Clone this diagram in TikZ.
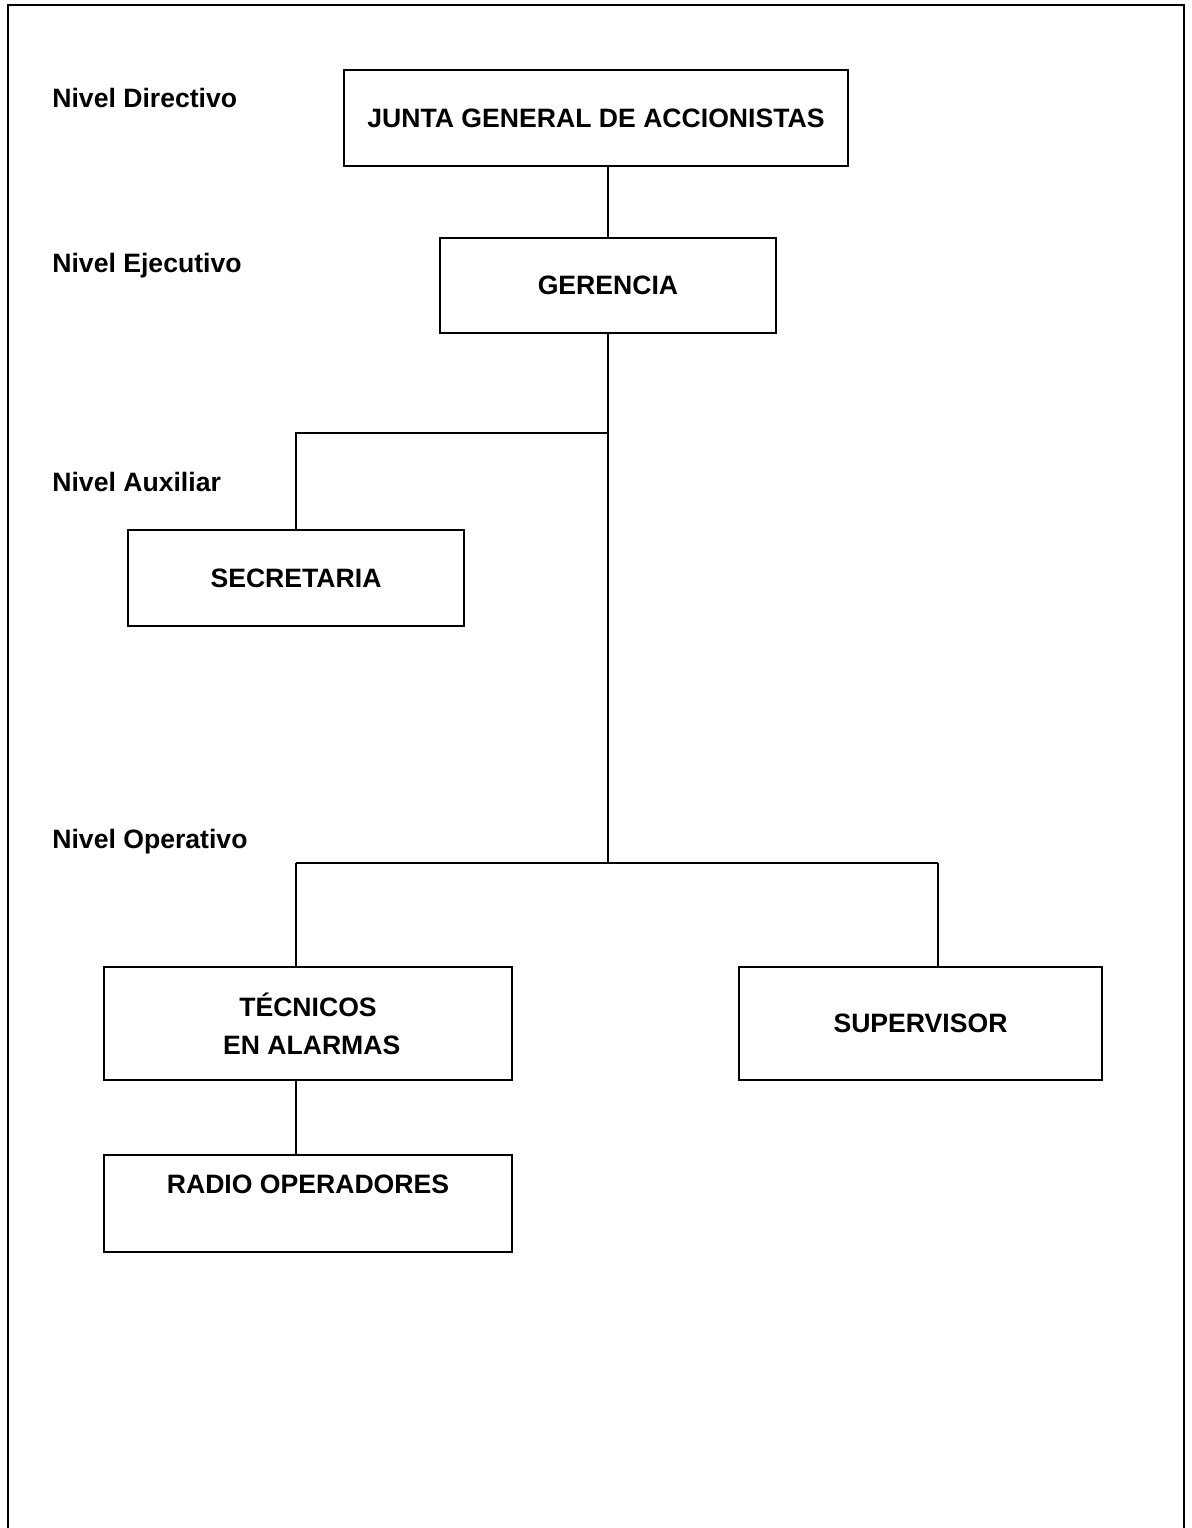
\documentclass[tikz,border=0pt]{standalone}
\usepackage{fontspec}
\setmainfont{Liberation Sans}
\usepackage{tikz}
\usetikzlibrary{positioning, calc}

\begin{document}
\begin{tikzpicture}[
  x=0.5pt, y=-0.5pt,
  font=\fontsize{13.3}{19}\selectfont\bfseries,
  box/.style={draw, line width=0.8pt, align=center, inner sep=0pt},
  level/.style={anchor=west, inner sep=0pt},
  link/.style={line width=0.7pt}
]
\useasboundingbox (0,0) rectangle (1192,1528);
\draw[line width=1pt] (8,1530) -- (8,5) -- (1184,5) -- (1184,1530);

\node[level] (ndir) at (52,98) {Nivel Directivo};
\node[level] (neje) at (52,266) {Nivel Ejecutivo};
\node[level] (naux) at (52,482) {Nivel Auxiliar};
\node[level] (nope) at (52,842) {Nivel Operativo};

\node[box, minimum width=252pt, minimum height=48pt] (junta) at (596,118) {JUNTA GENERAL DE ACCIONISTAS};
\node[box, minimum width=168pt, minimum height=47.5pt] (gerencia) at (608,285.5) {GERENCIA};
\node[box, minimum width=168pt, minimum height=48pt] (secretaria) at (296,578) {SECRETARIA};
\node[box, minimum width=204pt, minimum height=56.5pt] (tecnicos) at (308,1023.5) {TÉCNICOS\\ \ EN ALARMAS};
\node[box, minimum width=181.5pt, minimum height=56.5pt] (supervisor) at (920.5,1023.5) {SUPERVISOR};
\node[box, minimum width=204pt, minimum height=48.5pt] (radio) at (308,1203.5) {RADIO OPERADORES\\ ~};

\coordinate (aux) at (608,433);
\coordinate (op) at (608,863);
\coordinate (opl) at (296,863);
\coordinate (opr) at (938,863);

\draw[link] (gerencia.north) -- (gerencia.north |- junta.south);
\draw[link] (gerencia.south) -- (op);
\draw[link] (aux) -| (secretaria.north);
\draw[link] (opl) -- (opr);
\draw[link] (opl) -- (opl |- tecnicos.north);
\draw[link] (opr) -- (opr |- supervisor.north);
\draw[link] (opl |- tecnicos.south) -- (opl |- radio.north);
\end{tikzpicture}
\end{document}
